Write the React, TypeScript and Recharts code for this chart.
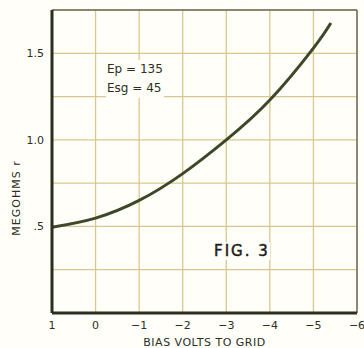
import { CartesianGrid, Line, LineChart, ReferenceLine, XAxis, YAxis } from 'recharts';

const bias = [1, 0, -1, -2, -3, -4, -5, -5.4];
const megohms = [0.495, 0.548, 0.65, 0.805, 1.0, 1.23, 1.53, 1.675];
const xTicks = [1, 0, -1, -2, -3, -4, -5, -6];
const yTicks = [0, 0.25, 0.5, 0.75, 1, 1.25, 1.5, 1.75];
const yLabels: Record<string, string> = { '0.5': '.5', '1': '1.0', '1.5': '1.5' };

const data = bias.map((b, i) => ({ bias: b, r: megohms[i] }));

const font = '"DejaVu Sans", sans-serif';
const ink = '#2b2f1e';
const gridTan = '#d8c78e';

const YLabel = () => (
  <text
    x={17}
    y={198}
    transform="rotate(-90 17 198)"
    textAnchor="middle"
    dominantBaseline="middle"
    fontFamily={font}
    fontSize={11}
    fill={ink}
    letterSpacing={1}
  >
    MEGOHMS  r
  </text>
);

export default function App() {
  return (
    <div style={{ position: 'relative', width: 364, height: 348, background: '#fffef9' }}>
      <style>{'body{margin:0}'}</style>
      <LineChart width={364} height={348} data={data} margin={{ top: 10, right: 7, left: 0, bottom: 0 }}>
        <CartesianGrid stroke={gridTan} strokeWidth={1.3} />
        <XAxis
          dataKey="bias"
          type="number"
          domain={[-6, 1]}
          reversed
          ticks={xTicks}
          height={35}
          tickLine={false}
          tickSize={0}
          tickMargin={8}
          axisLine={{ stroke: ink, strokeWidth: 3 }}
          tick={{ fontFamily: font, fontSize: 11, fill: ink }}
          tickFormatter={(v: number) => (v < 0 ? `\u2212${Math.abs(v)}` : String(v))}
          label={{
            value: 'BIAS VOLTS TO GRID',
            position: 'insideBottom',
            offset: 2,
            fontFamily: font,
            fontSize: 11,
            fill: ink,
            letterSpacing: 0.5,
          }}
        />
        <YAxis
          type="number"
          domain={[0, 1.75]}
          ticks={yTicks}
          width={52}
          tickLine={false}
          tickSize={0}
          tickMargin={8}
          axisLine={{ stroke: ink, strokeWidth: 3 }}
          tick={{ fontFamily: font, fontSize: 11, fill: ink }}
          tickFormatter={(v: number) => yLabels[String(v)] ?? ''}
          label={<YLabel />}
        />
        <ReferenceLine y={1.75} stroke="#6e6a5c" strokeWidth={1.5} />
        <ReferenceLine x={-6} stroke="#6e6a5c" strokeWidth={1.5} />
        <Line
          type="natural"
          dataKey="r"
          stroke="#3d4829"
          strokeWidth={3}
          dot={false}
          isAnimationActive={false}
        />
      </LineChart>
      <div
        style={{
          position: 'absolute',
          left: 106,
          top: 60,
          fontFamily: font,
          fontSize: 12,
          lineHeight: '19px',
          color: ink,
          background: '#fffef9',
          padding: '0 1px',
        }}
      >
        <div>Ep = 135</div>
        <div>Esg = 45</div>
      </div>
      <div
        style={{
          position: 'absolute',
          left: 214,
          top: 242,
          fontFamily: font,
          fontSize: 15,
          letterSpacing: 2,
          color: '#1e1e1e',
          WebkitTextStroke: '0.5px #1e1e1e',
          background: '#fffef9',
          lineHeight: '18px',
        }}
      >
        FIG. 3
      </div>
    </div>
  );
}
